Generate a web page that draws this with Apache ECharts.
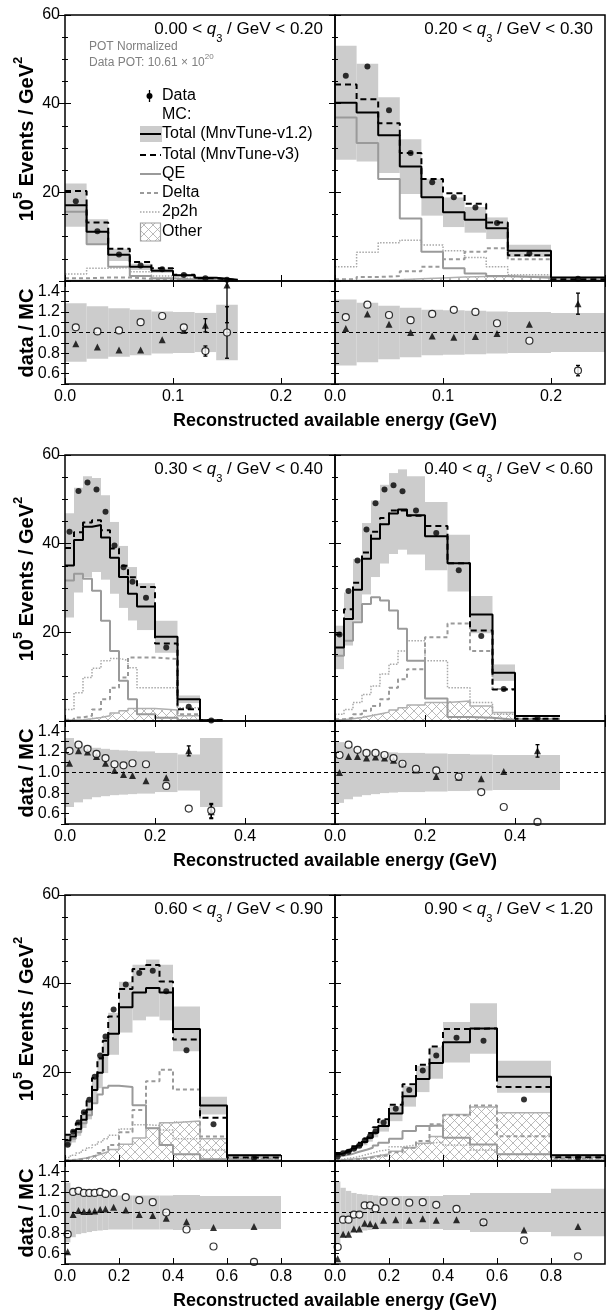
<!DOCTYPE html>
<html><head><meta charset="utf-8">
<script src="https://cdn.jsdelivr.net/npm/echarts@6/dist/echarts.min.js"></script>
<style>html,body{margin:0;padding:0;background:#fff}#c{width:606px;height:1311px}</style>
</head><body><div id="c"></div>
<script>
// ---------- bin edges (GeV) shared by all panels ----------
const edges = [0,0.02,0.04,0.06,0.08,0.10,0.12,0.14,0.16,0.20,0.25,0.30,0.35,0.40,0.50,0.60,0.80,1.00];
const q3Ranges = [['0.00','0.20'],['0.20','0.30'],['0.30','0.40'],['0.40','0.60'],['0.60','0.90'],['0.90','1.20']];
const xMax = [0.25,0.25,0.6,0.6,1.0,1.0];
const xInterval = [0.1,0.1,0.2,0.2,0.2,0.2];

// ---------- panel 1: 0.00 < q3 < 0.20 ----------
const p1_data  = [18.0, 11.2, 6.0, 3.5, 2.65, 1.37, 0.62, 0.3];
const p1_v12   = [17.1, 11.1, 5.9, 3.2, 2.3, 1.3, 0.75, 0.3];
const p1_v3    = [20.3, 13.2, 7.3, 4.3, 2.9, 1.4, 0.6, 0.2];
const p1_qe    = [15.6, 8.3, 3.2, 1.1, 0.6, 0.3, 0.15, 0.05];
const p1_delta = [0.6, 0.8, 0.8, 0.5, 0.4, 0.3, 0.2, 0.1];
const p1_mec   = [1.6, 2.9, 3.0, 2.1, 1.1, 0.6, 0.3, 0.1];
const p1_other = [0.1, 0.1, 0.1, 0.1, 0.1, 0.05, 0.05, 0.02];
const p1_err   = [0.285, 0.255, 0.235, 0.22, 0.205, 0.2, 0.19, 0.27];
const p1_rCirc = [1.05, 1.01, 1.02, 1.10, 1.16, 1.05, 0.82, 1.0];
const p1_rTri  = [0.89, 0.86, 0.83, 0.83, 0.93, 1.02, 1.07, 1.46];
const p1_rErr  = [0.01, 0.012, 0.015, 0.02, 0.025, 0.03, 0.06, 0.25];

// ---------- panel 2: 0.20 < q3 < 0.30 ----------
const p2_data  = [46.3, 48.4, 38.5, 28.9, 22.3, 18.9, 16.6, 13.1, 6.2, 0.5];
const p2_v12   = [40.2, 38.0, 32.9, 25.8, 18.9, 15.5, 13.8, 11.9, 6.8, 0.8];
const p2_v3    = [44.3, 41.0, 35.6, 28.9, 23.0, 19.8, 17.4, 13.2, 5.8, 0.4];
const p2_qe    = [36.9, 31.1, 23.0, 14.1, 6.6, 2.9, 1.7, 1.1, 0.75, 0.1];
const p2_delta = [0.4, 0.9, 1.1, 2.2, 3.2, 4.9, 6.6, 7.4, 4.9, 0.2];
const p2_mec   = [3.2, 6.5, 8.6, 9.2, 8.1, 6.8, 5.3, 3.2, 1.4, 0.1];
const p2_other = [0.1, 0.2, 0.3, 0.5, 0.7, 0.9, 1.0, 1.0, 1.0, 0.2];
const p2_err   = [0.32, 0.29, 0.26, 0.24, 0.22, 0.215, 0.21, 0.205, 0.2, 0.19];
const p2_rCirc = [1.15, 1.27, 1.17, 1.12, 1.18, 1.22, 1.20, 1.09, 0.92, 0.63];
const p2_rTri  = [1.04, 1.18, 1.08, 1.00, 0.965, 0.955, 0.96, 0.99, 1.08, 1.28];
const p2_rErr  = [0.01, 0.01, 0.012, 0.014, 0.016, 0.018, 0.02, 0.022, 0.025, 0.08];

// ---------- panel 3: 0.30 < q3 < 0.40 ----------
const p3_data  = [42.7, 51.9, 53.8, 52.2, 47.2, 39.6, 34.7, 31.4, 27.8, 16.6, 3.2, 0.1];
const p3_v12   = [35.1, 40.8, 43.8, 44.2, 41.4, 36.8, 32.5, 28.7, 25.8, 19.0, 4.9, 0.15];
const p3_v3    = [39.0, 42.6, 44.8, 45.3, 43.0, 38.9, 35.0, 32.4, 30.2, 17.5, 2.65, 0.16];
const p3_qe    = [31.7, 33.2, 32.1, 29.4, 22.6, 15.8, 9.1, 4.9, 1.5, 0.75, 0.2, 0.0];
const p3_delta = [0.3, 0.8, 1.2, 2.6, 4.9, 7.5, 9.8, 14.3, 14.3, 14.0, 1.5, 0.05];
const p3_mec   = [2.6, 6.4, 9.8, 11.9, 13.6, 14.1, 13.7, 12.0, 7.5, 7.5, 3.0, 0.05];
const p3_other = [0.2, 0.3, 0.5, 0.8, 1.2, 1.8, 2.3, 2.8, 2.8, 2.5, 1.2, 0.02];
const p3_err   = [0.335, 0.29, 0.26, 0.24, 0.23, 0.22, 0.215, 0.21, 0.205, 0.19, 0.175, 0.335];
const p3_rCirc = [1.21, 1.27, 1.23, 1.18, 1.14, 1.08, 1.07, 1.09, 1.08, 0.87, 0.65, 0.63];
const p3_rTri  = [1.09, 1.21, 1.20, 1.155, 1.09, 1.02, 0.98, 0.97, 0.92, 0.95, 1.21, 0.62];
const p3_rErr  = [0.01, 0.01, 0.01, 0.01, 0.012, 0.013, 0.014, 0.015, 0.016, 0.02, 0.04, 0.11];

// ---------- panel 4: 0.40 < q3 < 0.60 ----------
const p4_data  = [19.5, 29.3, 36.2, 43.2, 49.1, 52.2, 53.2, 51.8, 47.5, 42.4, 34.0, 19.2, 7.2, 0.6];
const p4_v12   = [16.6, 23.0, 29.6, 36.6, 41.1, 44.4, 46.8, 47.7, 46.4, 41.7, 35.6, 24.0, 10.9, 1.1];
const p4_v3    = [19.5, 25.2, 31.2, 38.0, 42.7, 45.8, 47.5, 47.5, 46.3, 44.0, 35.6, 20.4, 7.1, 0.5];
const p4_qe    = [14.7, 18.1, 22.3, 26.4, 27.9, 27.2, 24.9, 20.8, 13.6, 5.1, 0.9, 0.75, 0.3, 0.1];
const p4_delta = [0.4, 0.75, 1.5, 2.3, 3.4, 4.9, 7.5, 9.4, 11.7, 18.9, 22.0, 15.8, 7.2, 0.5];
const p4_mec   = [1.5, 2.6, 4.2, 6.0, 7.9, 10.6, 12.8, 15.8, 18.1, 13.6, 7.5, 4.2, 1.5, 0.5];
const p4_other = [0.3, 0.5, 0.8, 1.2, 1.6, 2.0, 2.5, 3.0, 3.6, 4.2, 4.5, 3.4, 1.9, 0.5];
const p4_err   = [0.295, 0.26, 0.235, 0.22, 0.21, 0.2, 0.195, 0.19, 0.19, 0.185, 0.18, 0.175, 0.17, 0.17];
const p4_rCirc = [1.17, 1.27, 1.22, 1.19, 1.19, 1.17, 1.14, 1.085, 1.035, 1.02, 0.96, 0.81, 0.665, 0.52];
const p4_rTri  = [1.0, 1.155, 1.155, 1.14, 1.15, 1.14, 1.12, 1.085, 1.025, 0.96, 0.955, 0.94, 1.01, 1.21];
const p4_rErr  = [0.01, 0.01, 0.01, 0.01, 0.01, 0.01, 0.01, 0.01, 0.012, 0.014, 0.016, 0.02, 0.03, 0.05];

// ---------- panel 5: 0.60 < q3 < 0.90 ----------
const p5_data  = [3.65, 6.6, 8.7, 11.0, 13.8, 19.0, 23.8, 28.1, 34.2, 39.8, 42.4, 42.9, 38.3, 25.0, 8.3, 0.68];
const p5_v12   = [4.6, 5.5, 7.2, 9.3, 11.6, 16.0, 19.9, 23.9, 28.7, 34.7, 38.0, 39.0, 38.0, 29.8, 12.5, 1.3];
const p5_v3    = [5.9, 6.7, 8.5, 10.9, 13.6, 18.7, 23.1, 27.1, 32.6, 38.8, 43.3, 44.2, 40.5, 27.4, 9.75, 0.8];
const p5_qe    = [3.75, 5.0, 6.5, 8.5, 10.3, 13.0, 15.0, 16.5, 17.0, 16.7, 12.6, 7.4, 3.6, 1.5, 0.4, 0.1];
const p5_delta = [0.2, 0.3, 0.4, 0.6, 0.9, 1.3, 1.8, 2.5, 3.6, 6.5, 11.5, 18.0, 20.6, 16.1, 5.5, 0.5];
const p5_mec   = [0.8, 1.3, 1.8, 2.4, 3.0, 3.6, 4.3, 5.0, 5.8, 7.2, 8.2, 8.0, 7.0, 5.0, 2.5, 0.4];
const p5_other = [0.2, 0.3, 0.5, 0.7, 1.0, 1.3, 1.7, 2.1, 2.6, 3.8, 5.2, 7.4, 8.6, 9.0, 5.0, 0.9];
const p5_err   = [0.29, 0.24, 0.21, 0.2, 0.19, 0.18, 0.175, 0.17, 0.165, 0.165, 0.165, 0.165, 0.165, 0.17, 0.16, 0.16];
const p5_rCirc = [0.79, 1.20, 1.21, 1.19, 1.19, 1.19, 1.20, 1.18, 1.19, 1.15, 1.12, 1.10, 1.00, 0.835, 0.67, 0.52];
const p5_rTri  = [0.62, 0.98, 1.02, 1.01, 1.01, 1.015, 1.03, 1.035, 1.05, 1.025, 0.98, 0.97, 0.945, 0.91, 0.855, 0.865];
const p5_rErr  = [0.02, 0.01, 0.01, 0.01, 0.01, 0.01, 0.01, 0.01, 0.01, 0.01, 0.01, 0.01, 0.012, 0.015, 0.02, 0.025];

// ---------- panel 6: 0.90 < q3 < 1.20 ----------
const p6_data  = [1.0, 1.75, 2.1, 2.75, 3.45, 4.6, 5.6, 6.65, 8.7, 11.8, 16.0, 20.4, 23.8, 27.8, 27.1, 13.9, 0.74];
const p6_v12   = [1.5, 1.9, 2.25, 2.8, 3.5, 4.3, 5.25, 6.4, 7.9, 10.7, 14.6, 18.5, 22.1, 26.8, 29.9, 19.0, 1.3];
const p6_v3    = [1.8, 2.2, 2.65, 3.3, 4.1, 5.1, 6.3, 7.6, 9.4, 12.7, 17.3, 21.7, 25.8, 29.8, 29.9, 16.7, 0.86];
const p6_qe    = [1.1, 1.3, 1.5, 1.9, 2.25, 2.6, 3.0, 3.5, 4.1, 5.0, 6.75, 7.9, 8.0, 5.25, 3.75, 1.5, 0.1];
const p6_delta = [0.1, 0.2, 0.3, 0.4, 0.5, 0.6, 0.8, 1.0, 1.3, 2.0, 3.0, 4.5, 8.3, 10.3, 12.5, 5.6, 0.5];
const p6_mec   = [0.3, 0.5, 0.7, 0.9, 1.2, 1.5, 1.8, 2.2, 2.6, 3.2, 3.6, 4.0, 4.3, 3.6, 2.5, 1.5, 0.2];
const p6_other = [0.2, 0.3, 0.4, 0.5, 0.6, 0.8, 1.0, 1.2, 1.6, 2.2, 3.0, 4.0, 5.5, 10.5, 12.2, 10.9, 0.8];
const p6_err   = [0.30, 0.24, 0.21, 0.19, 0.18, 0.175, 0.17, 0.165, 0.16, 0.16, 0.16, 0.16, 0.16, 0.17, 0.19, 0.19, 0.23];
const p6_rCirc = [0.665, 0.93, 0.93, 0.98, 0.98, 1.07, 1.07, 1.04, 1.105, 1.105, 1.095, 1.10, 1.075, 1.035, 0.905, 0.73, 0.575];
const p6_rTri  = [0.55, 0.79, 0.79, 0.84, 0.84, 0.895, 0.89, 0.875, 0.925, 0.93, 0.925, 0.94, 0.925, 0.93, 0.905, 0.83, 0.865];
const p6_rErr  = [0.03, 0.015, 0.012, 0.01, 0.01, 0.01, 0.01, 0.01, 0.01, 0.01, 0.01, 0.01, 0.01, 0.012, 0.015, 0.02, 0.025];

// ---------- styling / layout ----------
const FONT = '"Liberation Sans", Arial, Helvetica, sans-serif';
const BAND = '#cccccc';
const GRAY = '#9a9a9a';
const ROW_TOP = [15, 455, 895];
const COL_LEFT = [65, 335];
const W = 270, TOP_H = 266, RAT_H = 103;

const P = [
  {data:p1_data,v12:p1_v12,v3:p1_v3,qe:p1_qe,delta:p1_delta,mec:p1_mec,other:p1_other,err:p1_err,rc:p1_rCirc,rt:p1_rTri,re:p1_rErr},
  {data:p2_data,v12:p2_v12,v3:p2_v3,qe:p2_qe,delta:p2_delta,mec:p2_mec,other:p2_other,err:p2_err,rc:p2_rCirc,rt:p2_rTri,re:p2_rErr},
  {data:p3_data,v12:p3_v12,v3:p3_v3,qe:p3_qe,delta:p3_delta,mec:p3_mec,other:p3_other,err:p3_err,rc:p3_rCirc,rt:p3_rTri,re:p3_rErr},
  {data:p4_data,v12:p4_v12,v3:p4_v3,qe:p4_qe,delta:p4_delta,mec:p4_mec,other:p4_other,err:p4_err,rc:p4_rCirc,rt:p4_rTri,re:p4_rErr},
  {data:p5_data,v12:p5_v12,v3:p5_v3,qe:p5_qe,delta:p5_delta,mec:p5_mec,other:p5_other,err:p5_err,rc:p5_rCirc,rt:p5_rTri,re:p5_rErr},
  {data:p6_data,v12:p6_v12,v3:p6_v3,qe:p6_qe,delta:p6_delta,mec:p6_mec,other:p6_other,err:p6_err,rc:p6_rCirc,rt:p6_rTri,re:p6_rErr}
];

// hatch pattern for "Other"
const pc = document.createElement('canvas');
pc.width = 9; pc.height = 9;
(function(){ const g = pc.getContext('2d'); g.strokeStyle = '#a8a8a8'; g.lineWidth = 0.8;
  g.beginPath(); g.moveTo(0,0); g.lineTo(9,9); g.moveTo(9,0); g.lineTo(0,9); g.stroke(); })();
const HATCH = {image: pc, repeat: 'repeat'};

function steps(vals){ const d = []; for (let i = 0; i < vals.length; i++) d.push([edges[i], vals[i]]); d.push([edges[vals.length], vals[vals.length-1]]); return d; }
function ctr(i){ return (edges[i] + edges[i+1]) / 2; }
function rectItem(fill, stroke){
  return function(params, api){
    const a = api.coord([api.value(0), api.value(3)]);
    const b = api.coord([api.value(1), api.value(2)]);
    return {type:'rect', shape:{x:a[0], y:a[1], width:b[0]-a[0], height:b[1]-a[1]},
      style:{fill: fill, stroke: stroke || null, lineWidth: 0}};
  };
}
function errItem(params, api){
  const x = api.value(0), y = api.value(1), e = api.value(2);
  const t = api.coord([x, y + e]), b = api.coord([x, y - e]);
  if (b[1] - t[1] < 8) return null;
  const st = {stroke:'#000', lineWidth:1.3};
  return {type:'group', children:[
    {type:'line', shape:{x1:t[0], y1:t[1], x2:b[0], y2:b[1]}, style:st},
    {type:'line', shape:{x1:t[0]-2, y1:t[1], x2:t[0]+2, y2:t[1]}, style:st},
    {type:'line', shape:{x1:b[0]-2, y1:b[1], x2:b[0]+2, y2:b[1]}, style:st}
  ]};
}

const grids = [], xAxes = [], yAxes = [], series = [];
const tick = (len) => ({show:true, inside:true, length:len, lineStyle:{color:'#000', width:1}});
const lbl = {color:'#000', fontSize:16, fontFamily:FONT};

P.forEach((p, k) => {
  const row = Math.floor(k/2), col = k % 2;
  const L = COL_LEFT[col], T = ROW_TOP[row];
  const n = p.v12.length;
  const idx = [...Array(n).keys()];
  const gT = grids.length;
  grids.push({left:L, top:T, width:W, height:TOP_H, show:true, borderColor:'#000', borderWidth:1.5, backgroundColor:'rgba(0,0,0,0)', z:10, outerBoundsMode:'none', containLabel:false});
  const gR = grids.length;
  grids.push({left:L, top:T+TOP_H, width:W, height:RAT_H, show:true, borderColor:'#000', borderWidth:1.5, backgroundColor:'rgba(0,0,0,0)', z:10, outerBoundsMode:'none', containLabel:false});
  const mkX = (g, pos, showLabel) => ({type:'value', gridIndex:g, position:pos, min:0, max:xMax[k], interval:xInterval[k], z:10,
    axisLine:{show:false}, splitLine:{show:false}, axisTick:tick(6),
    axisLabel: showLabel ? Object.assign({show:true, margin:5, showMaxLabel:false, formatter:(v)=>v.toFixed(1)}, lbl) : {show:false}});
  const xT = xAxes.length; xAxes.push(mkX(gT, 'bottom', false)); xAxes.push(mkX(gT, 'top', false));
  const xR = xAxes.length; xAxes.push(mkX(gR, 'bottom', true)); xAxes.push(mkX(gR, 'top', false));
  const mkYT = (pos, showLabel) => ({type:'value', gridIndex:gT, position:pos, min:0, max:60, interval:20, z:10,
    axisLine:{show:false}, splitLine:{show:false}, axisTick:tick(6),
    minorTick:{show:true, splitNumber:4, length:3, lineStyle:{color:'#000', width:1}}, minorSplitLine:{show:false},
    axisLabel: showLabel ? Object.assign({show:true, margin:5, formatter:(v)=> v === 0 ? '' : String(v)}, lbl) : {show:false}});
  const yT = yAxes.length; yAxes.push(mkYT('left', col === 0)); yAxes.push(mkYT('right', false));
  const mkYR = (pos, showLabel) => ({type:'value', gridIndex:gR, position:pos, min:0.5, max:1.5, interval:0.1, z:10,
    axisLine:{show:false}, splitLine:{show:false}, axisTick:tick(4),
    axisLabel: showLabel ? Object.assign({show:true, margin:5, formatter:(v)=>{ const r = Math.round(v*10); return (r % 2 === 0 && r > 5 && r < 15) ? (r/10).toFixed(1) : ''; }}, lbl) : {show:false}});
  const yR = yAxes.length; yAxes.push(mkYR('left', col === 0)); yAxes.push(mkYR('right', false));

  // ---- top panel series ----
  series.push({type:'custom', xAxisIndex:xT, yAxisIndex:yT, z:1, silent:true, clip:true,
    encode:{x:[0,1], y:[2,3]}, renderItem:rectItem(BAND),
    data: idx.map(i => [edges[i], edges[i+1], p.v12[i]*(1-p.err[i]), p.v12[i]*(1+p.err[i])])});
  series.push({type:'custom', xAxisIndex:xT, yAxisIndex:yT, z:2, silent:true, clip:true,
    encode:{x:[0,1], y:[2,3]}, renderItem:rectItem(HATCH),
    data: idx.map(i => [edges[i], edges[i+1], 0, p.other[i]])});
  const ln = (vals, color, width, type, z) => ({type:'line', xAxisIndex:xT, yAxisIndex:yT, step:'end', data:steps(vals),
    symbol:'none', showSymbol:false, silent:true, z:z, clip:true, lineStyle:{color:color, width:width, type:type}});
  series.push(ln(p.other, '#b0b0b0', 1.5, 'solid', 3));
  series.push(ln(p.mec, '#a8a8a8', 1.5, [1.5, 1.5], 3));
  series.push(ln(p.delta, GRAY, 2, [4, 3], 3));
  series.push(ln(p.qe, GRAY, 2, 'solid', 3));
  series.push(ln(p.v12, '#000', 2, 'solid', 4));
  series.push(ln(p.v3, '#000', 2, [6, 4], 4));
  series.push({type:'scatter', xAxisIndex:xT, yAxisIndex:yT, z:5, silent:true, symbol:'circle', symbolSize:6,
    itemStyle:{color:'#000'}, data: idx.map(i => [ctr(i), p.data[i]])});

  // ---- ratio panel series ----
  series.push({type:'custom', xAxisIndex:xR, yAxisIndex:yR, z:1, silent:true, clip:true,
    encode:{x:[0,1], y:[2,3]}, renderItem:rectItem(BAND),
    data: idx.map(i => [edges[i], edges[i+1], 1-p.err[i], 1+p.err[i]])});
  series.push({type:'custom', xAxisIndex:xR, yAxisIndex:yR, z:4, silent:true, clip:true,
    encode:{x:0, y:1}, renderItem:errItem,
    data: idx.map(i => [ctr(i), p.rc[i], p.rc[i]*p.re[i]]).concat(idx.map(i => [ctr(i), p.rt[i], p.rt[i]*p.re[i]]))});
  series.push({type:'scatter', xAxisIndex:xR, yAxisIndex:yR, z:6, silent:true, symbol:'triangle', symbolSize:7,
    itemStyle:{color:'#000'}, data: idx.map(i => [ctr(i), p.rt[i]]),
    markLine:{silent:true, symbol:'none', label:{show:false}, animation:false,
      lineStyle:{color:'#000', width:1, type:[4,3]}, emphasis:{disabled:true}, data:[{yAxis:1}]}});
  series.push({type:'scatter', xAxisIndex:xR, yAxisIndex:yR, z:6, silent:true, symbol:'circle', symbolSize:7,
    itemStyle:{color:'#fff', borderColor:'#000', borderWidth:1.2}, data: idx.map(i => [ctr(i), p.rc[i]])});
});

// ---------- text & legend graphics ----------
const graphic = [];
function txt(text, x, y, size, opts){
  return Object.assign({type:'text', x:x, y:y, silent:true, z:100,
    style:Object.assign({text:text, fontSize:size, fontFamily:FONT, fill:'#000', align:'left', verticalAlign:'middle'}, (opts && opts.style) || {})},
    (opts && opts.el) || {});
}
for (let r = 0; r < 3; r++) {
  const dy = 440 * r;
  graphic.push(txt('{m|10}{u|5}{m| Events / GeV}{u|2}', 27, 139 + dy, 20, {
    el:{rotation:Math.PI/2},
    style:{align:'center', fontWeight:'bold', lineHeight:30,
      rich:{m:{fontSize:20, fontWeight:'bold', fontFamily:FONT, lineHeight:30},
            u:{fontSize:13, fontWeight:'bold', fontFamily:FONT, lineHeight:12, verticalAlign:'top'}}}}));
  graphic.push(txt('data / MC', 27, 333 + dy, 20, {el:{rotation:Math.PI/2}, style:{align:'center', fontWeight:'bold'}}));
  graphic.push(txt('Reconstructed available energy (GeV)', 335, 421 + dy, 18, {style:{align:'center', fontWeight:'bold'}}));
}
P.forEach((p, k) => {
  const row = Math.floor(k/2), col = k % 2;
  const x = COL_LEFT[col] + 258, y = ROW_TOP[row] + 14;
  graphic.push(txt(q3Ranges[k][0] + ' < {i|q}{s|3} / GeV < ' + q3Ranges[k][1], x, y, 17, {
    style:{align:'right', lineHeight:30,
      rich:{i:{fontSize:17, fontStyle:'italic', fontFamily:FONT, lineHeight:30},
            s:{fontSize:11, fontFamily:FONT, lineHeight:13, verticalAlign:'bottom'}}}}));
});
graphic.push(txt('POT Normalized', 89, 47, 12, {style:{fill:'#808080'}}));
graphic.push(txt('{a|Data POT: 10.61 \u00d7 10}{b|20}', 89, 63, 12, {style:{fill:'#808080', lineHeight:20,
  rich:{a:{fontSize:12, fontFamily:FONT, fill:'#808080', lineHeight:20}, b:{fontSize:8, fontFamily:FONT, fill:'#808080', lineHeight:8, verticalAlign:'top'}}}}));
const LX0 = 140, LX1 = 161, TX = 162;
graphic.push({type:'line', silent:true, z:100, shape:{x1:149.5, y1:90, x2:149.5, y2:102}, style:{stroke:'#000', lineWidth:1.3}});
graphic.push({type:'circle', silent:true, z:100, shape:{cx:149.5, cy:96, r:3}, style:{fill:'#000'}});
graphic.push(txt('Data', TX, 96, 16));
graphic.push(txt('MC:', TX, 115, 16));
graphic.push({type:'rect', silent:true, z:99, shape:{x:LX0, y:126, width:LX1-LX0+1, height:16}, style:{fill:BAND}});
graphic.push({type:'line', silent:true, z:100, shape:{x1:LX0, y1:134, x2:LX1, y2:134}, style:{stroke:'#000', lineWidth:2}});
graphic.push(txt('Total (MnvTune-v1.2)', TX, 134, 16));
graphic.push({type:'line', silent:true, z:100, shape:{x1:LX0, y1:155, x2:LX1, y2:155}, style:{stroke:'#000', lineWidth:2, lineDash:[6,4]}});
graphic.push(txt('Total (MnvTune-v3)', TX, 155, 16));
graphic.push({type:'line', silent:true, z:100, shape:{x1:LX0, y1:174, x2:LX1, y2:174}, style:{stroke:GRAY, lineWidth:2}});
graphic.push(txt('QE', TX, 174, 16));
graphic.push({type:'line', silent:true, z:100, shape:{x1:LX0, y1:193, x2:LX1, y2:193}, style:{stroke:GRAY, lineWidth:2, lineDash:[4,3]}});
graphic.push(txt('Delta', TX, 193, 16));
graphic.push({type:'line', silent:true, z:100, shape:{x1:LX0, y1:212, x2:LX1, y2:212}, style:{stroke:'#a8a8a8', lineWidth:1.5, lineDash:[1.5,1.5]}});
graphic.push(txt('2p2h', TX, 212, 16));
graphic.push({type:'rect', silent:true, z:100, shape:{x:LX0+0.5, y:223, width:20, height:18}, style:{fill:HATCH, stroke:'#a0a0a0', lineWidth:1.2}});
graphic.push(txt('Other', TX, 232, 16));

const chart = echarts.init(document.getElementById('c'), null, {renderer:'canvas', width:606, height:1311});
chart.setOption({
  animation:false,
  backgroundColor:'#ffffff',
  textStyle:{fontFamily:FONT},
  grid:grids, xAxis:xAxes, yAxis:yAxes, series:series, graphic:graphic
});
</script>
</body></html>
